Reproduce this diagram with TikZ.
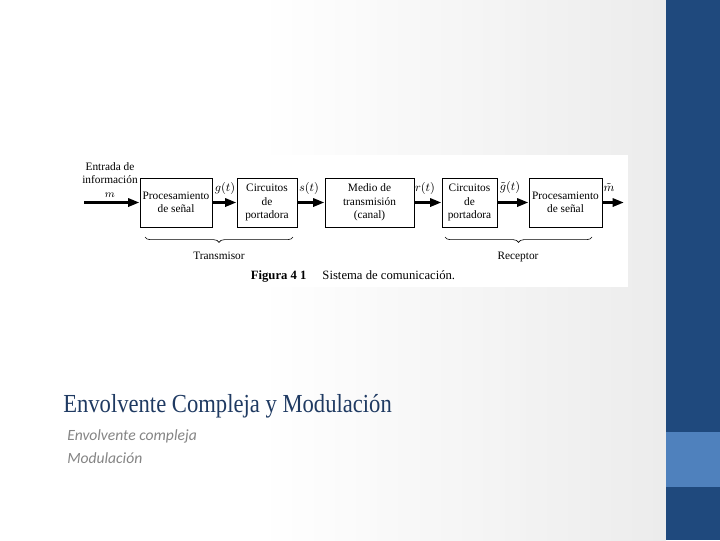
\documentclass[tikz,border=0pt]{standalone}
\usepackage{fontspec}
\setmainfont{Liberation Serif}
\newfontfamily\titlefont[FakeStretch=0.87]{Liberation Serif}
\newfontfamily\subfont{Carlito}
\usetikzlibrary{arrows.meta,decorations.pathreplacing}
\definecolor{sidedark}{HTML}{1F497D}
\definecolor{sidelight}{HTML}{4F81BD}
\definecolor{titleblue}{HTML}{1F3A62}
\definecolor{subgray}{HTML}{858585}
\begin{document}
\begin{tikzpicture}[x=0.75pt,y=-0.75pt,
  blk/.style={draw, line width=0.75pt, minimum height=36.75pt, inner sep=1pt, align=center,
    font=\fontsize{8.5}{10}\selectfont},
  sig/.style={line width=2.2pt, -{Triangle[length=8.5pt,width=6pt]}},
  lbl/.style={inner sep=0pt, font=\fontsize{8.5}{10}\selectfont},
  mlbl/.style={inner sep=0pt, font=\fontsize{9.2}{11}\selectfont},
  brc/.style={decorate, decoration={brace, mirror, amplitude=4pt}, line width=0.45pt},
  slidetxt/.style={inner sep=0pt, anchor=base west}]
\useasboundingbox (0,0) rectangle (720,540);
\fill[white] (0,0) rectangle (666,540);
\shade[left color=white, right color=gray!15] (260,0) rectangle (666,540);
\fill[white] (75,155) rectangle (628,287);
\fill[sidedark] (666,0) rectangle (720,540);
\fill[sidelight] (666,432) rectangle (720,487);

% blocks
\node[blk, minimum width=54pt] (b1) at (176,202.5) {Procesamiento\\de señal};
\node[blk, minimum width=45pt] (b2) at (267,202.5) {Circuitos\\de\\portadora};
\node[blk, minimum width=66.75pt] (b3) at (369.5,202.5) {Medio de\\transmisión\\(canal)};
\node[blk, minimum width=41.25pt] (b4) at (469.5,202.5) {Circuitos\\de\\portadora};
\node[blk, minimum width=54.75pt] (b5) at (565.5,202.5) {Procesamiento\\de señal};

\coordinate (in) at (84,202.5);
\coordinate (out) at (624,202.5);

\draw[sig] (in) -- (b1);
\draw[sig] (b1) -- (b2);
\draw[sig] (b2) -- (b3);
\draw[sig] (b3) -- (b4);
\draw[sig] (b4) -- (b5);
\draw[sig] (b5) -- (out);

% labels
\node[lbl, align=center] (lin) at (110,180) {Entrada de\\información\\$m$};
\node[mlbl] (lg) at (225,188) {$g(t)$};
\node[mlbl] (ls) at (309,188) {$s(t)$};
\node[mlbl] (lr) at (425,188) {$r(t)$};
\node[mlbl] (lgt) at (510,187) {$\tilde{g}(t)$};
\node[mlbl] (lm) at (609,187) {$\tilde{m}$};

% braces
\coordinate (t1) at (145,237);
\coordinate (t2) at (293,237);
\coordinate (r1) at (445,237);
\coordinate (r2) at (592,237);
\draw[brc] (t1) -- (t2);
\draw[brc] (r1) -- (r2);
\node[lbl, anchor=base] (ltx) at (219,259) {Transmisor};
\node[lbl, anchor=base] (lrx) at (518,259) {Receptor};

\node[lbl, font=\fontsize{9.5}{11}\selectfont] (cap) at (353,276)
  {\textbf{Figura 4 1}\hspace{12pt}Sistema de comunicación.};

% slide texts
\node[slidetxt, text=titleblue, font=\titlefont\fontsize{19.5}{22}\selectfont] (title) at (63,412)
  {Envolvente Compleja y Modulación};
\node[slidetxt, text=subgray, font=\subfont\itshape\fontsize{11.7}{14}\selectfont] (s1) at (67,440)
  {Envolvente compleja};
\node[slidetxt, text=subgray, font=\subfont\itshape\fontsize{11.7}{14}\selectfont] (s2) at (67,463)
  {Modulación};
\end{tikzpicture}
\end{document}
